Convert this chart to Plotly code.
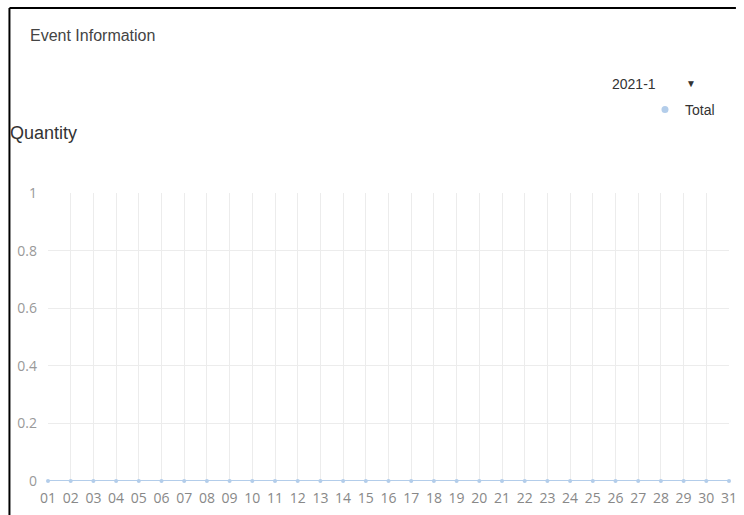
import plotly.graph_objects as go

# Days of the month and daily event counts (all zero in January 2021)
days = [f"{d:02d}" for d in range(1, 32)]
total = [0] * 31
y_ticks = [0, 0.2, 0.4, 0.6, 0.8, 1]
y_tick_labels = ["0", "0.2", "0.4", "0.6", "0.8", "1"]
month_label = "2021-1"

W, H = 744, 515
ML, MR, MT, MB = 48, 7, 193, 34
pw, ph = W - ML - MR, H - MT - MB


def px(x):
    return (x - ML) / pw


def py(y):
    return (H - MB - y) / ph


fig = go.Figure()

fig.add_trace(go.Scatter(
    x=days,
    y=total,
    mode="lines+markers",
    name="Total",
    line=dict(color="#b3cdea", width=2),
    marker=dict(color="#b3cdea", size=4),
    showlegend=False,
    cliponaxis=False,
))

# legend entry with marker only
fig.add_trace(go.Scatter(
    x=[None], y=[None],
    mode="markers",
    name="Total",
    marker=dict(color="#b3cdea", size=7),
))

# outer frame (top and left edges only, as in the screenshot)
fig.add_shape(type="line", xref="paper", yref="paper",
              x0=px(9), x1=px(W), y0=py(8), y1=py(8),
              line=dict(color="black", width=2))
fig.add_shape(type="line", xref="paper", yref="paper",
              x0=px(9), x1=px(9), y0=py(8), y1=py(H),
              line=dict(color="black", width=2))

fig.add_annotation(text="Event Information", xref="paper", yref="paper",
                   x=px(28), y=py(35), xanchor="left", yanchor="middle",
                   showarrow=False, font=dict(size=16, color="#444",
                                              family="Liberation Sans"))
fig.add_annotation(text="Quantity", xref="paper", yref="paper",
                   x=px(8), y=py(133), xanchor="left", yanchor="middle",
                   showarrow=False, font=dict(size=18, color="#333",
                                              family="Liberation Sans"))
fig.add_annotation(text=month_label, xref="paper", yref="paper",
                   x=px(617), y=py(84), xanchor="left", yanchor="middle",
                   showarrow=False, font=dict(size=14, color="#333",
                                              family="Liberation Sans"))
fig.add_annotation(text="▼", xref="paper", yref="paper",
                   x=px(699), y=py(83), xanchor="center", yanchor="middle",
                   showarrow=False, font=dict(size=10, color="#333"))

fig.update_layout(
    width=W,
    height=H,
    margin=dict(l=ML, r=MR, t=MT, b=MB),
    paper_bgcolor="white",
    plot_bgcolor="white",
    font=dict(family="Open Sans", color="#999"),
    legend=dict(
        x=px(652), y=py(110), xanchor="left", yanchor="middle",
        bgcolor="rgba(0,0,0,0)",
        font=dict(size=14, color="#333", family="Liberation Sans"),
        itemwidth=30,
    ),
    xaxis=dict(
        type="category",
        range=[0, 30],
        showgrid=True,
        gridcolor="#ececec",
        gridwidth=1,
        zeroline=False,
        showline=False,
        ticks="",
        tickfont=dict(size=14, color="#888"),
        ticklabelstandoff=7,
        tickangle=0,
    ),
    yaxis=dict(
        range=[0, 1],
        tickvals=y_ticks,
        ticktext=y_tick_labels,
        showgrid=True,
        gridcolor="#ececec",
        zeroline=False,
        showline=False,
        ticks="",
        tickfont=dict(size=14, color="#999"),
        ticklabelstandoff=10,
    ),
)

# page body has an 8px default margin; remove it so the figure fills the window
fig.write_html("out.html", config={"displayModeBar": False},
               post_script="document.body.style.margin='0';")
